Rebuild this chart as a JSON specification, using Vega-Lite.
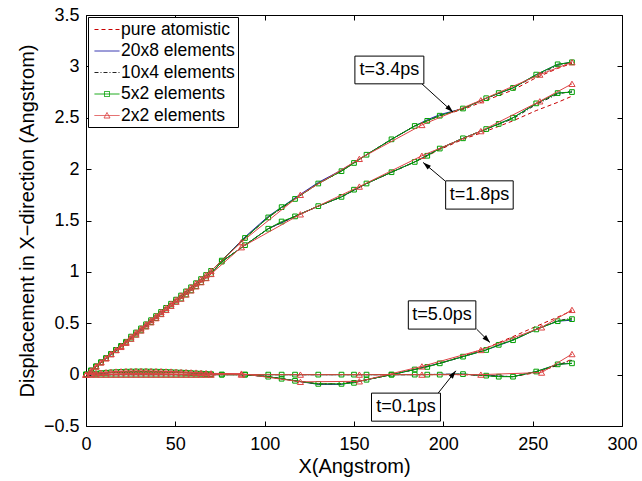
{
"$schema": "https://vega.github.io/schema/vega-lite/v6.json",
"width": 536, "height": 411,
"autosize": {"type": "none"},
"padding": {"left": 86, "top": 15, "right": 20, "bottom": 55},
"background": "white",
"config": {"view": {"stroke": null}, "font": "Liberation Sans"},
"resolve": {"axis": {"x": "independent", "y": "independent"}},
"datasets": {
"atom": [
{"t":"3.4","x":0,"y":0},{"t":"3.4","x":70,"y":1.01},{"t":"3.4","x":76,"y":1.11},{"t":"3.4","x":89,"y":1.33},{"t":"3.4","x":102,"y":1.53},{"t":"3.4","x":117,"y":1.71},{"t":"3.4","x":130,"y":1.86},{"t":"3.4","x":143,"y":1.98},{"t":"3.4","x":157,"y":2.14},{"t":"3.4","x":171,"y":2.29},{"t":"3.4","x":184,"y":2.42},{"t":"3.4","x":198,"y":2.52},{"t":"3.4","x":211,"y":2.58},{"t":"3.4","x":224,"y":2.67},{"t":"3.4","x":239,"y":2.77},{"t":"3.4","x":252,"y":2.89},{"t":"3.4","x":264,"y":2.98},{"t":"3.4","x":272,"y":3.03},
{"t":"1.8","x":0,"y":0},{"t":"1.8","x":70,"y":0.98},{"t":"1.8","x":76,"y":1.10},{"t":"1.8","x":89,"y":1.26},{"t":"1.8","x":102,"y":1.42},{"t":"1.8","x":117,"y":1.54},{"t":"1.8","x":130,"y":1.64},{"t":"1.8","x":143,"y":1.73},{"t":"1.8","x":157,"y":1.86},{"t":"1.8","x":171,"y":1.97},{"t":"1.8","x":184,"y":2.07},{"t":"1.8","x":198,"y":2.19},{"t":"1.8","x":211,"y":2.29},{"t":"1.8","x":224,"y":2.37},{"t":"1.8","x":239,"y":2.47},{"t":"1.8","x":252,"y":2.57},{"t":"1.8","x":264,"y":2.65},{"t":"1.8","x":272,"y":2.71},
{"t":"5.0","x":0,"y":0},{"t":"5.0","x":14,"y":0.02},{"t":"5.0","x":28,"y":0.03},{"t":"5.0","x":42,"y":0.03},{"t":"5.0","x":56,"y":0.02},{"t":"5.0","x":70,"y":0.005},{"t":"5.0","x":89,"y":0},{"t":"5.0","x":102,"y":-0.02},{"t":"5.0","x":117,"y":-0.06},{"t":"5.0","x":130,"y":-0.09},{"t":"5.0","x":143,"y":-0.09},{"t":"5.0","x":157,"y":-0.05},{"t":"5.0","x":171,"y":0},{"t":"5.0","x":184,"y":0.05},{"t":"5.0","x":198,"y":0.11},{"t":"5.0","x":211,"y":0.18},{"t":"5.0","x":224,"y":0.26},{"t":"5.0","x":239,"y":0.37},{"t":"5.0","x":252,"y":0.47},{"t":"5.0","x":264,"y":0.56},{"t":"5.0","x":272,"y":0.62},
{"t":"0.1","x":0,"y":0},{"t":"0.1","x":70,"y":0},{"t":"0.1","x":102,"y":0},{"t":"0.1","x":143,"y":0},{"t":"0.1","x":184,"y":0},{"t":"0.1","x":211,"y":0},{"t":"0.1","x":224,"y":-0.01},{"t":"0.1","x":239,"y":-0.02},{"t":"0.1","x":252,"y":0.02},{"t":"0.1","x":264,"y":0.09},{"t":"0.1","x":272,"y":0.15}
],
"e20": [
{"t":"3.4","x":0,"y":0},{"t":"3.4","x":70,"y":1.01},{"t":"3.4","x":76,"y":1.11},{"t":"3.4","x":89,"y":1.34},{"t":"3.4","x":102,"y":1.54},{"t":"3.4","x":117,"y":1.72},{"t":"3.4","x":130,"y":1.87},{"t":"3.4","x":143,"y":1.99},{"t":"3.4","x":157,"y":2.14},{"t":"3.4","x":171,"y":2.29},{"t":"3.4","x":184,"y":2.42},{"t":"3.4","x":191,"y":2.48},{"t":"3.4","x":198,"y":2.53},{"t":"3.4","x":211,"y":2.59},{"t":"3.4","x":224,"y":2.69},{"t":"3.4","x":239,"y":2.79},{"t":"3.4","x":252,"y":2.92},{"t":"3.4","x":264,"y":3.02},{"t":"3.4","x":272,"y":3.04},
{"t":"1.8","x":0,"y":0},{"t":"1.8","x":70,"y":0.98},{"t":"1.8","x":76,"y":1.10},{"t":"1.8","x":89,"y":1.26},{"t":"1.8","x":102,"y":1.42},{"t":"1.8","x":117,"y":1.54},{"t":"1.8","x":130,"y":1.64},{"t":"1.8","x":143,"y":1.73},{"t":"1.8","x":157,"y":1.86},{"t":"1.8","x":171,"y":1.97},{"t":"1.8","x":184,"y":2.07},{"t":"1.8","x":198,"y":2.20},{"t":"1.8","x":211,"y":2.30},{"t":"1.8","x":224,"y":2.39},{"t":"1.8","x":239,"y":2.50},{"t":"1.8","x":252,"y":2.64},{"t":"1.8","x":264,"y":2.74},{"t":"1.8","x":272,"y":2.75},
{"t":"5.0","x":0,"y":0},{"t":"5.0","x":14,"y":0.02},{"t":"5.0","x":28,"y":0.03},{"t":"5.0","x":42,"y":0.03},{"t":"5.0","x":56,"y":0.02},{"t":"5.0","x":70,"y":0.005},{"t":"5.0","x":89,"y":0},{"t":"5.0","x":102,"y":-0.02},{"t":"5.0","x":117,"y":-0.06},{"t":"5.0","x":130,"y":-0.095},{"t":"5.0","x":143,"y":-0.095},{"t":"5.0","x":157,"y":-0.05},{"t":"5.0","x":171,"y":0},{"t":"5.0","x":184,"y":0.05},{"t":"5.0","x":198,"y":0.11},{"t":"5.0","x":211,"y":0.175},{"t":"5.0","x":224,"y":0.24},{"t":"5.0","x":239,"y":0.335},{"t":"5.0","x":252,"y":0.44},{"t":"5.0","x":264,"y":0.52},{"t":"5.0","x":272,"y":0.53},
{"t":"0.1","x":0,"y":0},{"t":"0.1","x":70,"y":0},{"t":"0.1","x":102,"y":0},{"t":"0.1","x":143,"y":0},{"t":"0.1","x":184,"y":0},{"t":"0.1","x":211,"y":0.005},{"t":"0.1","x":224,"y":-0.01},{"t":"0.1","x":239,"y":-0.02},{"t":"0.1","x":252,"y":0.03},{"t":"0.1","x":264,"y":0.10},{"t":"0.1","x":272,"y":0.11}
],
"e10": [
{"t":"3.4","x":0,"y":0},{"t":"3.4","x":70,"y":1.01},{"t":"3.4","x":76,"y":1.11},{"t":"3.4","x":89,"y":1.33},{"t":"3.4","x":102,"y":1.53},{"t":"3.4","x":117,"y":1.71},{"t":"3.4","x":130,"y":1.86},{"t":"3.4","x":143,"y":1.98},{"t":"3.4","x":157,"y":2.14},{"t":"3.4","x":171,"y":2.29},{"t":"3.4","x":184,"y":2.42},{"t":"3.4","x":191,"y":2.47},{"t":"3.4","x":198,"y":2.52},{"t":"3.4","x":211,"y":2.59},{"t":"3.4","x":224,"y":2.69},{"t":"3.4","x":239,"y":2.79},{"t":"3.4","x":252,"y":2.91},{"t":"3.4","x":264,"y":3.01},{"t":"3.4","x":272,"y":3.04},
{"t":"1.8","x":0,"y":0},{"t":"1.8","x":70,"y":0.98},{"t":"1.8","x":76,"y":1.10},{"t":"1.8","x":89,"y":1.26},{"t":"1.8","x":102,"y":1.42},{"t":"1.8","x":117,"y":1.54},{"t":"1.8","x":130,"y":1.64},{"t":"1.8","x":143,"y":1.73},{"t":"1.8","x":157,"y":1.86},{"t":"1.8","x":171,"y":1.97},{"t":"1.8","x":184,"y":2.07},{"t":"1.8","x":198,"y":2.20},{"t":"1.8","x":211,"y":2.30},{"t":"1.8","x":224,"y":2.39},{"t":"1.8","x":239,"y":2.49},{"t":"1.8","x":252,"y":2.63},{"t":"1.8","x":264,"y":2.73},{"t":"1.8","x":272,"y":2.76},
{"t":"5.0","x":0,"y":0},{"t":"5.0","x":14,"y":0.02},{"t":"5.0","x":28,"y":0.03},{"t":"5.0","x":42,"y":0.03},{"t":"5.0","x":56,"y":0.02},{"t":"5.0","x":70,"y":0.005},{"t":"5.0","x":89,"y":0},{"t":"5.0","x":102,"y":-0.02},{"t":"5.0","x":117,"y":-0.06},{"t":"5.0","x":130,"y":-0.09},{"t":"5.0","x":143,"y":-0.09},{"t":"5.0","x":157,"y":-0.05},{"t":"5.0","x":171,"y":0},{"t":"5.0","x":184,"y":0.05},{"t":"5.0","x":198,"y":0.11},{"t":"5.0","x":211,"y":0.175},{"t":"5.0","x":224,"y":0.245},{"t":"5.0","x":239,"y":0.34},{"t":"5.0","x":252,"y":0.445},{"t":"5.0","x":264,"y":0.525},{"t":"5.0","x":272,"y":0.55},
{"t":"0.1","x":0,"y":0},{"t":"0.1","x":70,"y":0},{"t":"0.1","x":102,"y":0},{"t":"0.1","x":143,"y":0},{"t":"0.1","x":184,"y":0},{"t":"0.1","x":211,"y":0.005},{"t":"0.1","x":224,"y":-0.01},{"t":"0.1","x":239,"y":-0.02},{"t":"0.1","x":252,"y":0.03},{"t":"0.1","x":264,"y":0.09},{"t":"0.1","x":272,"y":0.14}
],
"e5": [
{"t":"3.4","x":0,"y":0},{"t":"3.4","x":2.8,"y":0.04},{"t":"3.4","x":5.6,"y":0.08},{"t":"3.4","x":8.4,"y":0.12},{"t":"3.4","x":11.2,"y":0.16},{"t":"3.4","x":14,"y":0.2},{"t":"3.4","x":16.8,"y":0.24},{"t":"3.4","x":19.6,"y":0.28},{"t":"3.4","x":22.4,"y":0.32},{"t":"3.4","x":25.2,"y":0.37},{"t":"3.4","x":28,"y":0.41},{"t":"3.4","x":30.8,"y":0.45},{"t":"3.4","x":33.6,"y":0.49},{"t":"3.4","x":36.4,"y":0.53},{"t":"3.4","x":39.2,"y":0.57},{"t":"3.4","x":42,"y":0.61},{"t":"3.4","x":44.8,"y":0.65},{"t":"3.4","x":47.6,"y":0.69},{"t":"3.4","x":50.4,"y":0.73},{"t":"3.4","x":53.2,"y":0.77},{"t":"3.4","x":56,"y":0.81},{"t":"3.4","x":58.8,"y":0.85},{"t":"3.4","x":61.6,"y":0.89},{"t":"3.4","x":64.4,"y":0.93},{"t":"3.4","x":67.2,"y":0.97},{"t":"3.4","x":70,"y":1.01},
{"t":"3.4","x":76,"y":1.11},{"t":"3.4","x":89,"y":1.33},{"t":"3.4","x":102,"y":1.53},{"t":"3.4","x":109.5,"y":1.63},{"t":"3.4","x":117,"y":1.71},{"t":"3.4","x":130,"y":1.86},{"t":"3.4","x":143,"y":1.98},{"t":"3.4","x":150,"y":2.06},{"t":"3.4","x":157,"y":2.14},{"t":"3.4","x":171,"y":2.29},{"t":"3.4","x":184,"y":2.42},{"t":"3.4","x":191,"y":2.47},{"t":"3.4","x":198,"y":2.52},{"t":"3.4","x":211,"y":2.59},{"t":"3.4","x":224,"y":2.69},{"t":"3.4","x":231,"y":2.74},{"t":"3.4","x":239,"y":2.79},{"t":"3.4","x":252,"y":2.92},{"t":"3.4","x":264,"y":3.02},{"t":"3.4","x":272,"y":3.04},
{"t":"1.8","x":0,"y":0},{"t":"1.8","x":2.8,"y":0.04},{"t":"1.8","x":5.6,"y":0.08},{"t":"1.8","x":8.4,"y":0.12},{"t":"1.8","x":11.2,"y":0.16},{"t":"1.8","x":14,"y":0.2},{"t":"1.8","x":16.8,"y":0.24},{"t":"1.8","x":19.6,"y":0.27},{"t":"1.8","x":22.4,"y":0.31},{"t":"1.8","x":25.2,"y":0.35},{"t":"1.8","x":28,"y":0.39},{"t":"1.8","x":30.8,"y":0.43},{"t":"1.8","x":33.6,"y":0.47},{"t":"1.8","x":36.4,"y":0.51},{"t":"1.8","x":39.2,"y":0.55},{"t":"1.8","x":42,"y":0.59},{"t":"1.8","x":44.8,"y":0.63},{"t":"1.8","x":47.6,"y":0.67},{"t":"1.8","x":50.4,"y":0.71},{"t":"1.8","x":53.2,"y":0.74},{"t":"1.8","x":56,"y":0.78},{"t":"1.8","x":58.8,"y":0.82},{"t":"1.8","x":61.6,"y":0.86},{"t":"1.8","x":64.4,"y":0.9},{"t":"1.8","x":67.2,"y":0.94},{"t":"1.8","x":70,"y":0.98},
{"t":"1.8","x":76,"y":1.10},{"t":"1.8","x":89,"y":1.26},{"t":"1.8","x":102,"y":1.42},{"t":"1.8","x":109.5,"y":1.49},{"t":"1.8","x":117,"y":1.54},{"t":"1.8","x":130,"y":1.64},{"t":"1.8","x":143,"y":1.73},{"t":"1.8","x":150,"y":1.80},{"t":"1.8","x":157,"y":1.86},{"t":"1.8","x":171,"y":1.97},{"t":"1.8","x":184,"y":2.07},{"t":"1.8","x":191,"y":2.13},{"t":"1.8","x":198,"y":2.20},{"t":"1.8","x":211,"y":2.30},{"t":"1.8","x":224,"y":2.39},{"t":"1.8","x":231,"y":2.44},{"t":"1.8","x":239,"y":2.50},{"t":"1.8","x":252,"y":2.64},{"t":"1.8","x":264,"y":2.74},{"t":"1.8","x":272,"y":2.75},
{"t":"5.0","x":0,"y":0},{"t":"5.0","x":2.8,"y":0.005},{"t":"5.0","x":5.6,"y":0.01},{"t":"5.0","x":8.4,"y":0.015},{"t":"5.0","x":11.2,"y":0.018},{"t":"5.0","x":14,"y":0.022},{"t":"5.0","x":16.8,"y":0.025},{"t":"5.0","x":19.6,"y":0.027},{"t":"5.0","x":22.4,"y":0.029},{"t":"5.0","x":25.2,"y":0.03},{"t":"5.0","x":28,"y":0.031},{"t":"5.0","x":30.8,"y":0.031},{"t":"5.0","x":33.6,"y":0.031},{"t":"5.0","x":36.4,"y":0.03},{"t":"5.0","x":39.2,"y":0.029},{"t":"5.0","x":42,"y":0.028},{"t":"5.0","x":44.8,"y":0.026},{"t":"5.0","x":47.6,"y":0.024},{"t":"5.0","x":50.4,"y":0.022},{"t":"5.0","x":53.2,"y":0.02},{"t":"5.0","x":56,"y":0.018},{"t":"5.0","x":58.8,"y":0.015},{"t":"5.0","x":61.6,"y":0.012},{"t":"5.0","x":64.4,"y":0.01},{"t":"5.0","x":67.2,"y":0.007},{"t":"5.0","x":70,"y":0.004},
{"t":"5.0","x":76,"y":0},{"t":"5.0","x":89,"y":0},{"t":"5.0","x":102,"y":-0.02},{"t":"5.0","x":109.5,"y":-0.04},{"t":"5.0","x":117,"y":-0.06},{"t":"5.0","x":130,"y":-0.09},{"t":"5.0","x":143,"y":-0.09},{"t":"5.0","x":150,"y":-0.08},{"t":"5.0","x":157,"y":-0.05},{"t":"5.0","x":171,"y":0},{"t":"5.0","x":184,"y":0.05},{"t":"5.0","x":191,"y":0.075},{"t":"5.0","x":198,"y":0.11},{"t":"5.0","x":211,"y":0.175},{"t":"5.0","x":224,"y":0.24},{"t":"5.0","x":231,"y":0.29},{"t":"5.0","x":239,"y":0.335},{"t":"5.0","x":252,"y":0.44},{"t":"5.0","x":264,"y":0.52},{"t":"5.0","x":272,"y":0.54},
{"t":"0.1","x":0,"y":0},{"t":"0.1","x":2.8,"y":0},{"t":"0.1","x":5.6,"y":0},{"t":"0.1","x":8.4,"y":0},{"t":"0.1","x":11.2,"y":0},{"t":"0.1","x":14,"y":0},{"t":"0.1","x":16.8,"y":0},{"t":"0.1","x":19.6,"y":0},{"t":"0.1","x":22.4,"y":0},{"t":"0.1","x":25.2,"y":0},{"t":"0.1","x":28,"y":0},{"t":"0.1","x":30.8,"y":0},{"t":"0.1","x":33.6,"y":0},{"t":"0.1","x":36.4,"y":0},{"t":"0.1","x":39.2,"y":0},{"t":"0.1","x":42,"y":0},{"t":"0.1","x":44.8,"y":0},{"t":"0.1","x":47.6,"y":0},{"t":"0.1","x":50.4,"y":0},{"t":"0.1","x":53.2,"y":0},{"t":"0.1","x":56,"y":0},{"t":"0.1","x":58.8,"y":0},{"t":"0.1","x":61.6,"y":0},{"t":"0.1","x":64.4,"y":0},{"t":"0.1","x":67.2,"y":0},{"t":"0.1","x":70,"y":0},
{"t":"0.1","x":76,"y":0},{"t":"0.1","x":89,"y":0},{"t":"0.1","x":102,"y":0},{"t":"0.1","x":109.5,"y":0},{"t":"0.1","x":117,"y":0},{"t":"0.1","x":130,"y":0},{"t":"0.1","x":143,"y":0},{"t":"0.1","x":150,"y":0},{"t":"0.1","x":157,"y":0},{"t":"0.1","x":171,"y":0},{"t":"0.1","x":184,"y":0},{"t":"0.1","x":191,"y":0},{"t":"0.1","x":198,"y":0},{"t":"0.1","x":211,"y":0.005},{"t":"0.1","x":224,"y":-0.01},{"t":"0.1","x":231,"y":-0.02},{"t":"0.1","x":239,"y":-0.02},{"t":"0.1","x":252,"y":0.03},{"t":"0.1","x":264,"y":0.10},{"t":"0.1","x":272,"y":0.11}
],
"e2": [
{"t":"3.4","x":0,"y":0},{"t":"3.4","x":2.8,"y":0.04},{"t":"3.4","x":5.6,"y":0.08},{"t":"3.4","x":8.4,"y":0.12},{"t":"3.4","x":11.2,"y":0.16},{"t":"3.4","x":14,"y":0.2},{"t":"3.4","x":16.8,"y":0.24},{"t":"3.4","x":19.6,"y":0.28},{"t":"3.4","x":22.4,"y":0.32},{"t":"3.4","x":25.2,"y":0.37},{"t":"3.4","x":28,"y":0.41},{"t":"3.4","x":30.8,"y":0.45},{"t":"3.4","x":33.6,"y":0.49},{"t":"3.4","x":36.4,"y":0.53},{"t":"3.4","x":39.2,"y":0.57},{"t":"3.4","x":42,"y":0.61},{"t":"3.4","x":44.8,"y":0.65},{"t":"3.4","x":47.6,"y":0.69},{"t":"3.4","x":50.4,"y":0.73},{"t":"3.4","x":53.2,"y":0.77},{"t":"3.4","x":56,"y":0.81},{"t":"3.4","x":58.8,"y":0.85},{"t":"3.4","x":61.6,"y":0.89},{"t":"3.4","x":64.4,"y":0.93},{"t":"3.4","x":67.2,"y":0.97},{"t":"3.4","x":70,"y":1.01},
{"t":"3.4","x":87,"y":1.29},{"t":"3.4","x":120,"y":1.75},{"t":"3.4","x":153,"y":2.10},{"t":"3.4","x":188,"y":2.43},{"t":"3.4","x":221,"y":2.67},{"t":"3.4","x":254,"y":2.92},{"t":"3.4","x":272,"y":3.04},
{"t":"1.8","x":0,"y":0},{"t":"1.8","x":2.8,"y":0.04},{"t":"1.8","x":5.6,"y":0.08},{"t":"1.8","x":8.4,"y":0.12},{"t":"1.8","x":11.2,"y":0.16},{"t":"1.8","x":14,"y":0.2},{"t":"1.8","x":16.8,"y":0.24},{"t":"1.8","x":19.6,"y":0.27},{"t":"1.8","x":22.4,"y":0.31},{"t":"1.8","x":25.2,"y":0.35},{"t":"1.8","x":28,"y":0.39},{"t":"1.8","x":30.8,"y":0.43},{"t":"1.8","x":33.6,"y":0.47},{"t":"1.8","x":36.4,"y":0.51},{"t":"1.8","x":39.2,"y":0.55},{"t":"1.8","x":42,"y":0.59},{"t":"1.8","x":44.8,"y":0.63},{"t":"1.8","x":47.6,"y":0.67},{"t":"1.8","x":50.4,"y":0.71},{"t":"1.8","x":53.2,"y":0.74},{"t":"1.8","x":56,"y":0.78},{"t":"1.8","x":58.8,"y":0.82},{"t":"1.8","x":61.6,"y":0.86},{"t":"1.8","x":64.4,"y":0.9},{"t":"1.8","x":67.2,"y":0.94},{"t":"1.8","x":70,"y":0.98},
{"t":"1.8","x":87,"y":1.24},{"t":"1.8","x":120,"y":1.56},{"t":"1.8","x":153,"y":1.83},{"t":"1.8","x":188,"y":2.13},{"t":"1.8","x":221,"y":2.37},{"t":"1.8","x":254,"y":2.66},{"t":"1.8","x":272,"y":2.83},
{"t":"5.0","x":0,"y":0},{"t":"5.0","x":2.8,"y":0.008},{"t":"5.0","x":5.6,"y":0.014},{"t":"5.0","x":8.4,"y":0.019},{"t":"5.0","x":11.2,"y":0.023},{"t":"5.0","x":14,"y":0.027},{"t":"5.0","x":16.8,"y":0.03},{"t":"5.0","x":19.6,"y":0.032},{"t":"5.0","x":22.4,"y":0.034},{"t":"5.0","x":25.2,"y":0.035},{"t":"5.0","x":28,"y":0.036},{"t":"5.0","x":30.8,"y":0.036},{"t":"5.0","x":33.6,"y":0.036},{"t":"5.0","x":36.4,"y":0.035},{"t":"5.0","x":39.2,"y":0.034},{"t":"5.0","x":42,"y":0.033},{"t":"5.0","x":44.8,"y":0.031},{"t":"5.0","x":47.6,"y":0.03},{"t":"5.0","x":50.4,"y":0.028},{"t":"5.0","x":53.2,"y":0.026},{"t":"5.0","x":56,"y":0.024},{"t":"5.0","x":58.8,"y":0.022},{"t":"5.0","x":61.6,"y":0.02},{"t":"5.0","x":64.4,"y":0.018},{"t":"5.0","x":67.2,"y":0.015},{"t":"5.0","x":70,"y":0.012},
{"t":"5.0","x":87,"y":0.01},{"t":"5.0","x":120,"y":-0.07},{"t":"5.0","x":153,"y":-0.065},{"t":"5.0","x":188,"y":0.08},{"t":"5.0","x":221,"y":0.24},{"t":"5.0","x":255,"y":0.46},{"t":"5.0","x":272,"y":0.63},
{"t":"0.1","x":0,"y":0},{"t":"0.1","x":2.8,"y":0},{"t":"0.1","x":5.6,"y":0},{"t":"0.1","x":8.4,"y":0},{"t":"0.1","x":11.2,"y":0},{"t":"0.1","x":14,"y":0},{"t":"0.1","x":16.8,"y":0},{"t":"0.1","x":19.6,"y":0},{"t":"0.1","x":22.4,"y":0},{"t":"0.1","x":25.2,"y":0},{"t":"0.1","x":28,"y":0},{"t":"0.1","x":30.8,"y":0},{"t":"0.1","x":33.6,"y":0},{"t":"0.1","x":36.4,"y":0},{"t":"0.1","x":39.2,"y":0},{"t":"0.1","x":42,"y":0},{"t":"0.1","x":44.8,"y":0},{"t":"0.1","x":47.6,"y":0},{"t":"0.1","x":50.4,"y":0},{"t":"0.1","x":53.2,"y":0},{"t":"0.1","x":56,"y":0},{"t":"0.1","x":58.8,"y":0},{"t":"0.1","x":61.6,"y":0},{"t":"0.1","x":64.4,"y":0},{"t":"0.1","x":67.2,"y":0},{"t":"0.1","x":70,"y":0},
{"t":"0.1","x":87,"y":0},{"t":"0.1","x":120,"y":0},{"t":"0.1","x":153,"y":0},{"t":"0.1","x":188,"y":0},{"t":"0.1","x":221,"y":0},{"t":"0.1","x":255,"y":0.02},{"t":"0.1","x":272,"y":0.2}
],
"ann": [
{"label":"t=3.4ps","x":169.8,"y":2.963,"x1":150.5,"x2":189.1,"y1":2.83,"y2":3.10,"ax":188,"ay":2.83,"tx":205.4,"ty":2.555},
{"label":"t=1.8ps","x":220.2,"y":1.747,"x1":201.3,"x2":239.1,"y1":1.611,"y2":1.886,"ax":200.9,"ay":1.886,"tx":188.7,"ty":2.065},
{"label":"t=5.0ps","x":199.2,"y":0.579,"x1":180.4,"x2":218.2,"y1":0.443,"y2":0.718,"ax":218.6,"ay":0.443,"tx":226.1,"ty":0.313},
{"label":"t=0.1ps","x":179.1,"y":-0.316,"x1":159.8,"x2":198.4,"y1":-0.453,"y2":-0.18,"ax":197.1,"ay":-0.18,"tx":207,"ty":0.037}
]
},
"layer": [
{"data": {"name": "atom"},
 "mark": {"type": "line", "strokeWidth": 1, "strokeDash": [4, 3]},
 "encoding": {
  "x": {"field": "x", "type": "quantitative", "scale": {"domain": [0, 300], "nice": false, "zero": false},
        "axis": {"orient": "bottom", "values": [0, 50, 100, 150, 200, 250, 300], "format": "d", "title": "X(Angstrom)", "grid": false,
                 "tickSize": -5, "tickColor": "black", "domainColor": "black", "labelColor": "black", "labelFont": "Liberation Sans", "labelFontSize": 18,
                 "labelPadding": 14, "labelFlush": false, "labelOverlap": false, "titleFont": "Liberation Sans", "titleFontSize": 20, "titleFontWeight": "normal", "titleColor": "black", "titlePadding": 3}},
  "y": {"field": "y", "type": "quantitative", "scale": {"domain": [-0.5, 3.5], "nice": false, "zero": false},
        "axis": {"orient": "left", "values": [-0.5, 0, 0.5, 1, 1.5, 2, 2.5, 3, 3.5], "format": ".1~f", "title": "Displacement in X−direction (Angstrom)", "grid": false,
                 "tickSize": -5, "tickColor": "black", "domainColor": "black", "labelColor": "black", "labelFont": "Liberation Sans", "labelFontSize": 18,
                 "labelPadding": 12, "labelFlush": false, "labelOverlap": false, "titleFont": "Liberation Sans", "titleFontSize": 20, "titleFontWeight": "normal", "titleColor": "black", "titlePadding": 6}},
  "detail": {"field": "t", "type": "nominal"},
  "color": {"datum": "pure atomistic", "type": "nominal",
    "scale": {"domain": ["pure atomistic", "20x8 elements", "10x4 elements", "5x2 elements", "2x2 elements"], "range": ["#c80000", "#2020a8", "#222222", "#00a000", "#dd4444"]},
    "legend": {"orient": "top-left", "offset": 2, "title": null, "padding": 3, "strokeColor": "black", "fillColor": "white", "cornerRadius": 0,
      "labelFont": "Liberation Sans", "labelFontSize": 17.5, "labelColor": "black", "labelOffset": 11, "labelLimit": 0,
      "symbolSize": 324, "symbolStrokeWidth": 1, "rowPadding": 3.5,
      "encode": {"symbols": {"update": {
        "shape": {"signal": "datum.value === '5x2 elements' ? 'M-0.667,0H2.111M0.444,-0.278H1V0.278H0.444Z' : datum.value === '2x2 elements' ? 'M-0.667,0H2.111M0.722,-0.33L1.055,0.28H0.389Z' : 'M-0.667,0H2.111'"},
        "strokeDash": {"signal": "datum.value === 'pure atomistic' ? [4,3] : datum.value === '10x4 elements' ? [4,2,1,2] : [1,0]"},
        "fill": {"value": "transparent"},
        "strokeWidth": {"value": 1}}}}}}
 }},
{"data": {"name": "e20"},
 "mark": {"type": "line", "strokeWidth": 1},
 "encoding": {
  "x": {"field": "x", "type": "quantitative", "axis": null},
  "y": {"field": "y", "type": "quantitative", "axis": null},
  "detail": {"field": "t", "type": "nominal"},
  "color": {"datum": "20x8 elements", "type": "nominal"}}},
{"data": {"name": "e10"},
 "mark": {"type": "line", "strokeWidth": 1, "strokeDash": [4, 2, 1, 2]},
 "encoding": {
  "x": {"field": "x", "type": "quantitative", "axis": null},
  "y": {"field": "y", "type": "quantitative", "axis": null},
  "detail": {"field": "t", "type": "nominal"},
  "color": {"datum": "10x4 elements", "type": "nominal"}}},
{"data": {"name": "e5"},
 "mark": {"type": "line", "strokeWidth": 1},
 "encoding": {
  "x": {"field": "x", "type": "quantitative", "axis": null},
  "y": {"field": "y", "type": "quantitative", "axis": null},
  "detail": {"field": "t", "type": "nominal"},
  "color": {"datum": "5x2 elements", "type": "nominal"}}},
{"data": {"name": "e5"},
 "mark": {"type": "point", "shape": "square", "filled": false, "color": "#00a000", "size": 22, "strokeWidth": 1, "opacity": 1},
 "encoding": {
  "x": {"field": "x", "type": "quantitative", "axis": null},
  "y": {"field": "y", "type": "quantitative", "axis": null}}},
{"data": {"name": "e2"},
 "mark": {"type": "line", "strokeWidth": 1},
 "encoding": {
  "x": {"field": "x", "type": "quantitative", "axis": null},
  "y": {"field": "y", "type": "quantitative", "axis": null},
  "detail": {"field": "t", "type": "nominal"},
  "color": {"datum": "2x2 elements", "type": "nominal"}}},
{"data": {"name": "e2"},
 "mark": {"type": "point", "shape": "triangle-up", "filled": false, "color": "#dd4444", "size": 38, "strokeWidth": 1, "opacity": 1},
 "encoding": {
  "x": {"field": "x", "type": "quantitative", "axis": null},
  "y": {"field": "y", "type": "quantitative", "axis": null}}},
{"data": {"name": "ann"},
 "mark": {"type": "rule", "color": "black", "strokeWidth": 1},
 "encoding": {
  "x": {"field": "ax", "type": "quantitative", "axis": null},
  "y": {"field": "ay", "type": "quantitative", "axis": null},
  "x2": {"field": "tx"},
  "y2": {"field": "ty"}}},
{"data": {"name": "ann"},
 "transform": [{"calculate": "atan2((datum.tx - datum.ax) * 536 / 300, (datum.ty - datum.ay) * 411 / 4) * 180 / PI", "as": "ang"}],
 "mark": {"type": "point", "shape": "M0,0L0.8,2.5L-0.8,2.5Z", "filled": true, "color": "black", "size": 41, "strokeWidth": 0, "opacity": 1},
 "encoding": {
  "x": {"field": "tx", "type": "quantitative", "axis": null},
  "y": {"field": "ty", "type": "quantitative", "axis": null},
  "angle": {"field": "ang", "type": "quantitative", "scale": null}}},
{"data": {"name": "ann"},
 "mark": {"type": "rect", "fill": "white", "stroke": "black", "strokeWidth": 1},
 "encoding": {
  "x": {"field": "x1", "type": "quantitative",
        "axis": {"orient": "top", "values": [0, 50, 100, 150, 200, 250, 300], "labels": false, "title": null, "grid": false, "tickSize": -5, "tickColor": "black", "domainColor": "black"}},
  "x2": {"field": "x2"},
  "y": {"field": "y1", "type": "quantitative",
        "axis": {"orient": "right", "values": [-0.5, 0, 0.5, 1, 1.5, 2, 2.5, 3, 3.5], "labels": false, "title": null, "grid": false, "tickSize": -5, "tickColor": "black", "domainColor": "black"}},
  "y2": {"field": "y2"}}},
{"data": {"name": "ann"},
 "mark": {"type": "text", "font": "Liberation Sans", "fontSize": 18, "color": "black", "align": "center", "baseline": "middle"},
 "encoding": {
  "x": {"field": "x", "type": "quantitative", "axis": null},
  "y": {"field": "y", "type": "quantitative", "axis": null},
  "text": {"field": "label"}}}
]
}
